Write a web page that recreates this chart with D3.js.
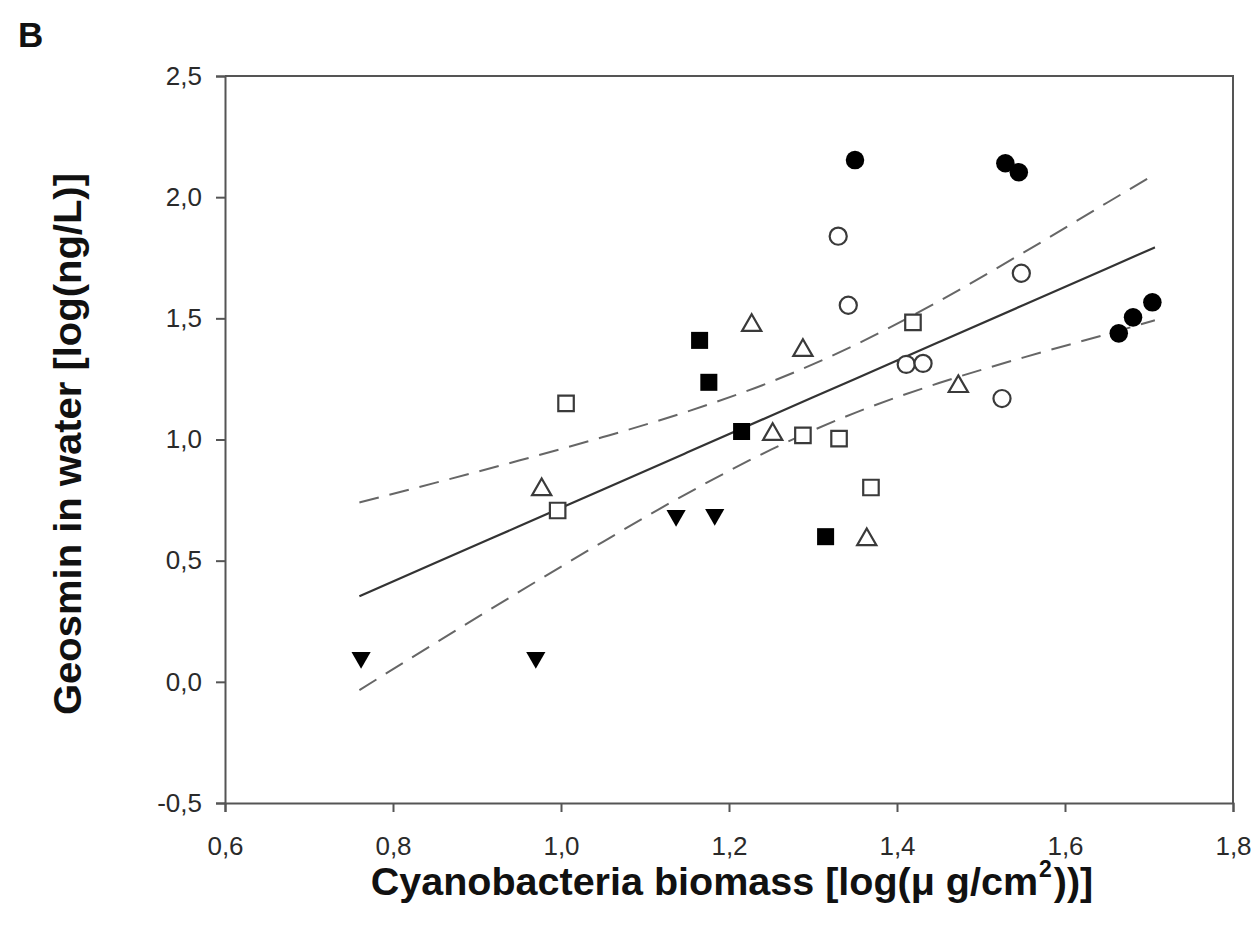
<!DOCTYPE html>
<html>
<head>
<meta charset="utf-8">
<script src="https://cdn.jsdelivr.net/npm/d3@7"></script>
<style>
  body { margin: 0; background: #fff; }
  svg { display: block; font-family: "Liberation Sans", Arial, sans-serif; }
</style>
</head>
<body>
<svg id="chart" width="1259" height="935"></svg>
<script>
// groups (x = cyanobacteria biomass, y = geosmin in water), both log scale values
const filledCircleX = [1.350, 1.529, 1.545, 1.664, 1.681, 1.704];
const filledCircleY = [2.153, 2.140, 2.103, 1.438, 1.504, 1.566];
const openCircleX = [1.330, 1.342, 1.411, 1.431, 1.525, 1.548];
const openCircleY = [1.839, 1.554, 1.310, 1.314, 1.169, 1.686];
const filledSquareX = [1.165, 1.176, 1.215, 1.315];
const filledSquareY = [1.409, 1.236, 1.033, 0.599];
const openSquareX = [1.006, 0.996, 1.288, 1.331, 1.369, 1.419];
const openSquareY = [1.149, 0.707, 1.017, 1.004, 0.802, 1.483];
const openTriangleX = [0.977, 1.227, 1.288, 1.252, 1.364, 1.473];
const openTriangleY = [0.793, 1.471, 1.368, 1.021, 0.587, 1.219];
const downTriangleX = [0.762, 0.970, 1.137, 1.183];
const downTriangleY = [0.100, 0.100, 0.686, 0.690];

// regression line and 95% confidence band
const fitX = [0.76, 0.85, 0.95, 1.05, 1.15, 1.25, 1.35, 1.45, 1.55, 1.65, 1.707];
const fitY = [0.353, 0.490, 0.642, 0.794, 0.946, 1.098, 1.250, 1.402, 1.554, 1.706, 1.793];
const upperY = [0.740, 0.821, 0.913, 1.010, 1.115, 1.238, 1.390, 1.571, 1.770, 1.977, 2.094];
const lowerY = [-0.034, 0.159, 0.371, 0.578, 0.777, 0.958, 1.110, 1.233, 1.338, 1.435, 1.492];

const xTicks = [0.6, 0.8, 1.0, 1.2, 1.4, 1.6, 1.8];
const yTicks = [-0.5, 0.0, 0.5, 1.0, 1.5, 2.0, 2.5];

const panelLabel = "B";
const xTitle = "Cyanobacteria biomass [log(μ g/cm";
const yTitle = "Geosmin in water [log(ng/L)]";

const svg = d3.select("#chart");
const mLeft = 225, mTop = 76, mRight = 1233, mBottom = 803;
const axisColor = "#555";

const xScale = d3.scaleLinear().domain([0.6, 1.8]).range([mLeft, mRight]);
const yScale = d3.scaleLinear().domain([-0.5, 2.5]).range([mBottom, mTop]);
const fmt = d => d3.format(".1f")(d).replace(".", ",").replace("−", "-");

// frame (top + right)
svg.append("path")
  .attr("d", `M${mLeft},${mTop}H${mRight}V${mBottom}`)
  .attr("fill", "none")
  .attr("stroke", axisColor)
  .attr("stroke-width", 2);

const xAxis = svg.append("g")
  .attr("transform", `translate(0,${mBottom})`)
  .call(d3.axisBottom(xScale).tickValues(xTicks).tickFormat(fmt).tickSize(9).tickPadding(25));
const yAxis = svg.append("g")
  .attr("transform", `translate(${mLeft},0)`)
  .call(d3.axisLeft(yScale).tickValues(yTicks).tickFormat(fmt).tickSize(9).tickPadding(14));

[xAxis, yAxis].forEach(ax => {
  ax.select(".domain").attr("stroke", axisColor).attr("stroke-width", 2);
  ax.selectAll(".tick line").attr("stroke", axisColor).attr("stroke-width", 2);
  ax.selectAll(".tick text")
    .attr("fill", "#2a2a2a")
    .style("font-size", "26px")
    .style("font-family", "'Liberation Sans', Arial, sans-serif");
});

// fit and confidence band
const lineGen = ys => d3.line()
  .x((d, i) => xScale(fitX[i]))
  .y((d, i) => yScale(ys[i]))
  .curve(d3.curveMonotoneX)(ys);

svg.append("path")
  .attr("d", lineGen(fitY))
  .attr("fill", "none")
  .attr("stroke", "#333")
  .attr("stroke-width", 2.2);

[upperY, lowerY].forEach(ys => {
  svg.append("path")
    .attr("d", lineGen(ys))
    .attr("fill", "none")
    .attr("stroke", "#666")
    .attr("stroke-width", 2)
    .attr("stroke-dasharray", "20,11");
});

// markers
const groups = [
  { xs: filledCircleX, ys: filledCircleY, type: d3.symbolCircle, size: 270, fill: "#000", rot: 0 },
  { xs: openCircleX, ys: openCircleY, type: d3.symbolCircle, size: 230, fill: "none", rot: 0 },
  { xs: filledSquareX, ys: filledSquareY, type: d3.symbolSquare, size: 290, fill: "#000", rot: 0 },
  { xs: openSquareX, ys: openSquareY, type: d3.symbolSquare, size: 240, fill: "none", rot: 0 },
  { xs: openTriangleX, ys: openTriangleY, type: d3.symbolTriangle, size: 160, fill: "none", rot: 0 },
  { xs: downTriangleX, ys: downTriangleY, type: d3.symbolTriangle, size: 160, fill: "#000", rot: 180 }
];

groups.forEach(g => {
  svg.append("g")
    .selectAll("path")
    .data(g.xs)
    .enter()
    .append("path")
    .attr("d", d3.symbol().type(g.type).size(g.size))
    .attr("transform", (d, i) => `translate(${xScale(d)},${yScale(g.ys[i])}) rotate(${g.rot})`)
    .attr("fill", g.fill === "none" ? "#fff" : g.fill)
    .attr("stroke", g.fill === "none" ? "#3a3a3a" : "none")
    .attr("stroke-width", 2.2);
});

// titles
svg.append("text")
  .attr("x", 18).attr("y", 47)
  .attr("font-size", 35).attr("font-weight", "bold")
  .attr("fill", "#111")
  .text(panelLabel);

const xt = svg.append("text")
  .attr("x", 732).attr("y", 895)
  .attr("text-anchor", "middle")
  .attr("font-size", 39.5).attr("font-weight", "bold")
  .attr("fill", "#111");
xt.append("tspan").text(xTitle);
xt.append("tspan").attr("font-size", 23).attr("dx", 1).attr("dy", -18).text("2");
xt.append("tspan").attr("dx", 2).attr("dy", 18).text("))]");

svg.append("text")
  .attr("transform", "translate(81,444) rotate(-90)")
  .attr("text-anchor", "middle")
  .attr("font-size", 39).attr("font-weight", "bold")
  .attr("fill", "#111")
  .attr("textLength", 542)
  .attr("lengthAdjust", "spacingAndGlyphs")
  .text(yTitle);
</script>
</body>
</html>
